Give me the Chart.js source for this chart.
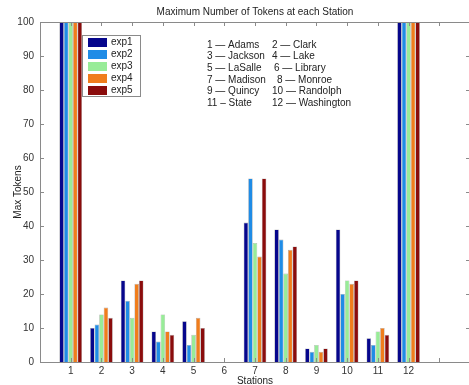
<!DOCTYPE html>
<html>
<head>
<meta charset="utf-8">
<script src="https://cdn.jsdelivr.net/npm/chart.js@4/dist/chart.umd.min.js"></script>
<style>
  html, body { margin: 0; padding: 0; background: #fff; }
  #wrap { width: 469px; height: 385px; overflow: hidden; position: relative; }
</style>
</head>
<body>
<div id="wrap"><canvas id="chart" width="473" height="385"></canvas></div>
<script>
// Station numbers and names
const stations = ['1', '2', '3', '4', '5', '6', '7', '8', '9', '10', '11', '12'];
const stationNames = ['Adams', 'Clark', 'Jackson', 'Lake', 'LaSalle', 'Library',
  'Madison', 'Monroe', 'Quincy', 'Randolph', 'State', 'Washington'];

// Max tokens per station, one list per experiment (1 and 12 run off the top)
const exp1 = [100, 10, 24, 9, 12, 0, 41, 39, 4, 39, 7, 100];
const exp2 = [100, 11, 18, 6, 5, 0, 54, 36, 3, 20, 5, 100];
const exp3 = [100, 14, 13, 14, 8, 0, 35, 26, 5, 24, 9, 100];
const exp4 = [100, 16, 23, 9, 13, 0, 31, 33, 3, 23, 10, 100];
const exp5 = [100, 13, 24, 8, 10, 0, 54, 34, 4, 24, 8, 100];

const seriesNames = ['exp1', 'exp2', 'exp3', 'exp4', 'exp5'];
const seriesColors = ['#06068c', '#1f8ce6', '#98ec98', '#f07d1c', '#8a0c0c'];

const FONT = 'Liberation Sans, Arial, sans-serif';
const axisColor = '#8a8a8a';
const textColor = '#333333';

const toPoints = arr => arr.map((v, i) => ({ x: i + 1, y: v }));

// Box, inner ticks, title, legend and station key drawn on top
const decorPlugin = {
  id: 'decor',
  afterDraw(chart) {
    const ctx = chart.ctx;
    const a = chart.chartArea;
    const xs = chart.scales.x;
    const ys = chart.scales.y;
    ctx.save();

    // frame
    ctx.strokeStyle = axisColor;
    ctx.lineWidth = 1;
    ctx.strokeRect(a.left + 0.5, a.top + 0.5, a.right - a.left, a.bottom - a.top);

    // inward ticks
    ctx.beginPath();
    for (let v = 0; v <= 100; v += 10) {
      const y = Math.round(ys.getPixelForValue(v)) + 0.5;
      ctx.moveTo(a.left, y); ctx.lineTo(a.left + 4, y);
      ctx.moveTo(a.right, y); ctx.lineTo(a.right - 4, y);
    }
    for (let k = 1; k <= 13; k++) {
      const x = Math.round(xs.getPixelForValue(k)) + 0.5;
      ctx.moveTo(x, a.top); ctx.lineTo(x, a.top + 4);
      ctx.moveTo(x, a.bottom); ctx.lineTo(x, a.bottom - 4);
    }
    ctx.stroke();

    // title
    ctx.fillStyle = '#222';
    ctx.font = '10px ' + FONT;
    ctx.textAlign = 'center';
    ctx.textBaseline = 'middle';
    ctx.fillText('Maximum Number of Tokens at each Station', 255, 12);

    // legend
    ctx.fillStyle = '#fff';
    ctx.fillRect(82, 35, 58, 61);
    ctx.strokeStyle = axisColor;
    ctx.strokeRect(82.5, 35.5, 58, 61);
    ctx.textAlign = 'left';
    seriesNames.forEach((name, i) => {
      const cy = 42 + i * 12;
      ctx.fillStyle = seriesColors[i];
      ctx.fillRect(88, cy - 4, 19, 9);
      ctx.fillStyle = '#222';
      ctx.fillText(name, 111, cy);
    });

    // station key
    for (let r = 0; r < 6; r++) {
      const y = 45 + r * 11.6;
      const a1 = 2 * r, a2 = 2 * r + 1;
      const d1 = a1 === 10 ? ' \u2013 ' : ' \u2014 ';
      ctx.fillText((a1 + 1) + d1 + stationNames[a1], 207, y);
      const x2 = [272, 272, 274, 277, 272, 272][r];
      ctx.fillText((a2 + 1) + ' \u2014 ' + stationNames[a2], x2, y);
    }
    ctx.restore();
  }
};

new Chart(document.getElementById('chart'), {
  type: 'bar',
  data: {
    datasets: [exp1, exp2, exp3, exp4, exp5].map((arr, i) => ({
      label: seriesNames[i],
      data: toPoints(arr),
      backgroundColor: seriesColors[i],
      borderColor: 'rgba(0,0,0,0.35)',
      borderWidth: c => (c.raw && c.raw.y === 0 ? 0 : 0.6),
      borderSkipped: 'bottom',
      categoryPercentage: 0.74,
      barPercentage: 1
    }))
  },
  options: {
    responsive: false,
    animation: false,
    layout: { padding: { top: 22, right: 0, left: 0, bottom: 0 } },
    plugins: {
      legend: { display: false },
      title: { display: false },
      tooltip: { enabled: false }
    },
    scales: {
      x: {
        type: 'linear',
        offset: false,
        min: 0,
        max: 14,
        grid: { display: false, drawTicks: false, offset: false },
        border: { display: false },
        ticks: {
          stepSize: 1,
          autoSkip: false,
          maxRotation: 0,
          padding: 3,
          color: textColor,
          font: { family: FONT, size: 10 },
          callback: v => (v >= 1 && v <= 12 ? stations[v - 1] : '')
        },
        title: {
          display: true,
          text: 'Stations',
          color: '#222',
          font: { family: FONT, size: 10 },
          padding: { top: 0, bottom: -2 }
        },
        afterFit: s => { s.height = 23; }
      },
      y: {
        min: 0,
        max: 100,
        grid: { display: false, drawTicks: false },
        border: { display: false },
        ticks: {
          stepSize: 10,
          padding: 6,
          color: textColor,
          font: { family: FONT, size: 10 }
        },
        title: {
          display: true,
          text: 'Max Tokens',
          color: '#222',
          font: { family: FONT, size: 10 },
          padding: { top: 12, bottom: 0 }
        },
        afterFit: s => { s.width = 40; }
      }
    }
  },
  plugins: [decorPlugin]
});
</script>
</body>
</html>
